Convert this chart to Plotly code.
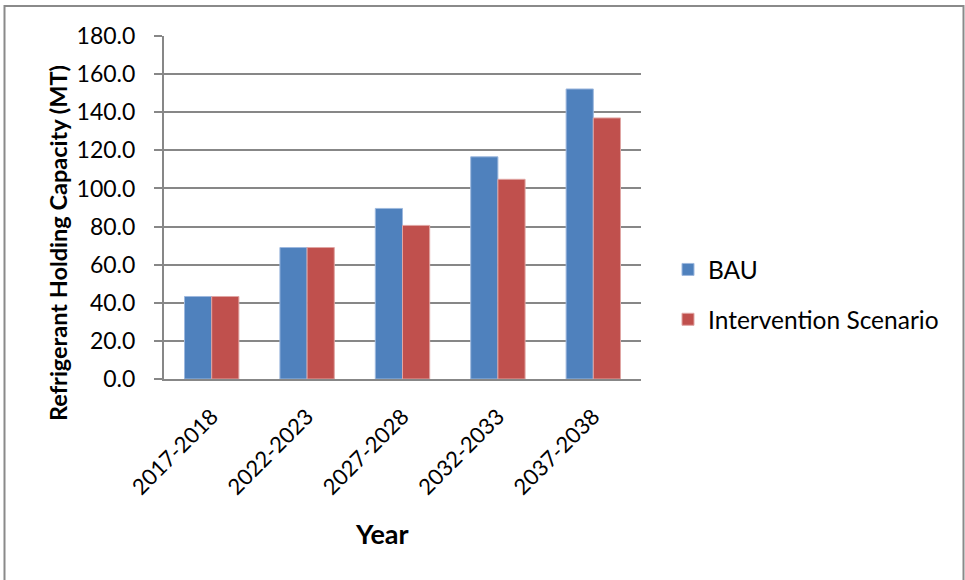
import plotly.graph_objects as go

categories = ["2017-2018", "2022-2023", "2027-2028", "2032-2033", "2037-2038"]
bau = [43.3, 69.0, 89.5, 116.6, 152.2]
intervention = [43.3, 69.0, 80.6, 104.8, 137.0]
series_names = ["BAU", "Intervention Scenario"]
y_ticks = [0, 20, 40, 60, 80, 100, 120, 140, 160, 180]
y_tick_labels = [f"{v:.1f}" for v in y_ticks]

FONT = "Lato, Carlito, Calibri, sans-serif"
GRID = "#878787"

fig = go.Figure()
fig.add_trace(go.Bar(x=categories, y=bau, name=series_names[0],
                     marker=dict(color="#4F81BD", line=dict(color="#9DB8DE", width=1)),
                     legendgroup="a"))
fig.add_trace(go.Bar(x=categories, y=intervention, name=series_names[1],
                     marker=dict(color="#C0504D", line=dict(color="#E0A5A3", width=1)),
                     legendgroup="b"))

W, H = 965, 580
L, R, T, B = 164, 324, 36, 201
pw, ph = W - L - R, H - T - B

def px_x(x):
    return (x - L) / pw

def px_y(y):
    return (H - B - y) / ph

fig.update_layout(
    width=W, height=H,
    margin=dict(l=L, r=R, t=T, b=B, autoexpand=False),
    paper_bgcolor="white", plot_bgcolor="white",
    barmode="group", bargap=0.43, bargroupgap=0,
    font=dict(family=FONT, size=20, color="#000000"),
    showlegend=True,
    legend=dict(x=px_x(668), y=px_y(247), xanchor="left", yanchor="top",
                traceorder="grouped", tracegroupgap=15,
                font=dict(family=FONT, size=24.5, color="#000000"),
                itemwidth=30, bgcolor="rgba(0,0,0,0)"),
    xaxis=dict(type="category", tickangle=-45, showgrid=False,
               showline=True, linecolor=GRID, linewidth=2,
               ticks="", ticklabelstandoff=14,
               tickfont=dict(family=FONT, size=22, color="#000000")),
    yaxis=dict(range=[0, 180], tickvals=y_ticks, ticktext=y_tick_labels,
               showgrid=True, gridcolor=GRID, gridwidth=2,
               showline=True, linecolor=GRID, linewidth=2,
               ticks="outside", ticklen=8, tickcolor=GRID, tickwidth=2,
               ticklabelstandoff=14, zeroline=False,
               tickfont=dict(family=FONT, size=23, color="#000000")),
    shapes=[dict(type="rect", xref="paper", yref="paper",
                 x0=px_x(4.5), x1=px_x(963.5), y0=px_y(595), y1=px_y(6),
                 line=dict(color="#8a8a8a", width=2), fillcolor="rgba(0,0,0,0)",
                 layer="below")],
    annotations=[
        dict(text="<b>Year</b>", xref="paper", yref="paper",
             x=px_x(382), y=px_y(533), xanchor="center", yanchor="middle",
             showarrow=False, font=dict(family=FONT, size=27, color="#000000")),
        dict(text="<b>Refrigerant Holding Capacity (MT)</b>", xref="paper", yref="paper",
             x=px_x(58), y=px_y(243), xanchor="center", yanchor="middle",
             textangle=-90, showarrow=False,
             font=dict(family=FONT, size=23.5, color="#000000")),
    ],
)

fig.write_html("out.html",
               config={"displayModeBar": False},
               post_script="document.body.style.margin='0';document.body.style.overflow='hidden';")
